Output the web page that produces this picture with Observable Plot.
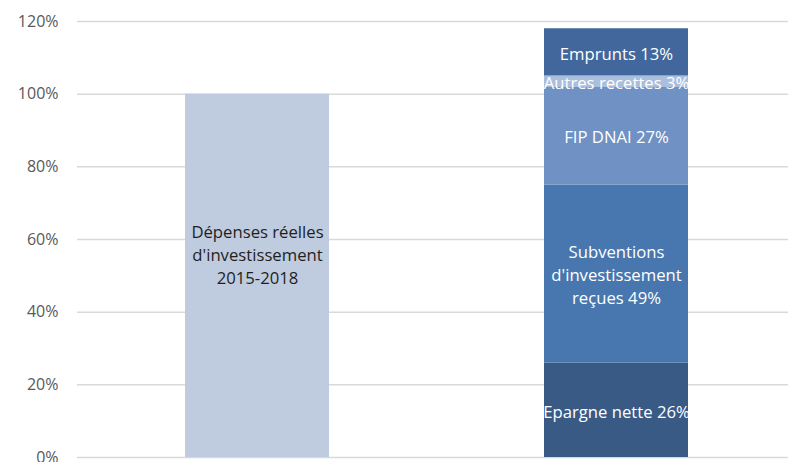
<!DOCTYPE html>
<html>
<head>
<meta charset="utf-8">
<script src="https://cdn.jsdelivr.net/npm/d3@7"></script>
<script src="https://cdn.jsdelivr.net/npm/@observablehq/plot@0.6"></script>
<style>
  html, body { margin: 0; padding: 0; background: #fff; overflow: hidden; }
</style>
</head>
<body>
<div id="chart"></div>
<script>
const bars = ["Dépenses", "Recettes"];
const segments = ["Dépenses réelles\nd'investissement\n2015-2018", "Epargne nette 26%", "Subventions\nd'investissement\nreçues 49%", "FIP DNAI 27%", "Autres recettes 3%", "Emprunts 13%"];
const segmentBar = ["Dépenses", "Recettes", "Recettes", "Recettes", "Recettes", "Recettes"];
const values = [1.00, 0.26, 0.49, 0.27, 0.03, 0.13];
const colors = ["#bfcbde", "#3a5a86", "#4777ae", "#7091c3", "#aabedd", "#41679d"];
const labelColors = ["#1f1f1f", "#ffffff", "#ffffff", "#ffffff", "#ffffff", "#ffffff"];
const yTicks = [0, 0.2, 0.4, 0.6, 0.8, 1.0, 1.2];

const data = segments.map((s, i) => ({
  bar: segmentBar[i], label: s, value: values[i], color: colors[i], tcolor: labelColors[i], idx: i
}));

const font = "'Open Sans', 'Liberation Sans', sans-serif";

const chart = Plot.plot({
  width: 788,
  height: 462,
  marginLeft: 77,
  marginRight: 0,
  marginTop: 21,
  marginBottom: 5,
  style: { fontFamily: font, fontSize: "15px", background: "#fff", overflow: "visible" },
  x: { domain: bars, padding: 0.6, paddingOuter: 0.29, align: 0.52, axis: null },
  y: { domain: [0, 1.2], ticks: yTicks, tickFormat: d3.format(".0%"), label: null, tickSize: 0, tickPadding: 19 },
  marks: [
    Plot.ruleY(yTicks, { stroke: "#d9d9d9", strokeWidth: 1.5 }),
    Plot.axisY({ ticks: yTicks, tickFormat: d3.format(".0%"), tickSize: 0, tickPadding: 19, fill: "#595959", fontSize: 16, label: null }),
    Plot.barY(data, { x: "bar", y: "value", fill: "color", order: "idx" }),
    Plot.text(data.filter(d => d.idx > 0), Plot.stackY({
      x: "bar", y: "value", text: "label", fill: "tcolor", order: "idx",
      fontSize: 16.7, lineHeight: 1.38
    })),
    Plot.text(data.filter(d => d.idx === 0), Plot.stackY({
      x: "bar", y: "value", text: "label", fill: "tcolor", dy: -22,
      fontSize: 16.7, lineHeight: 1.38
    }))
  ]
});
document.getElementById("chart").appendChild(chart);
</script>
</body>
</html>
